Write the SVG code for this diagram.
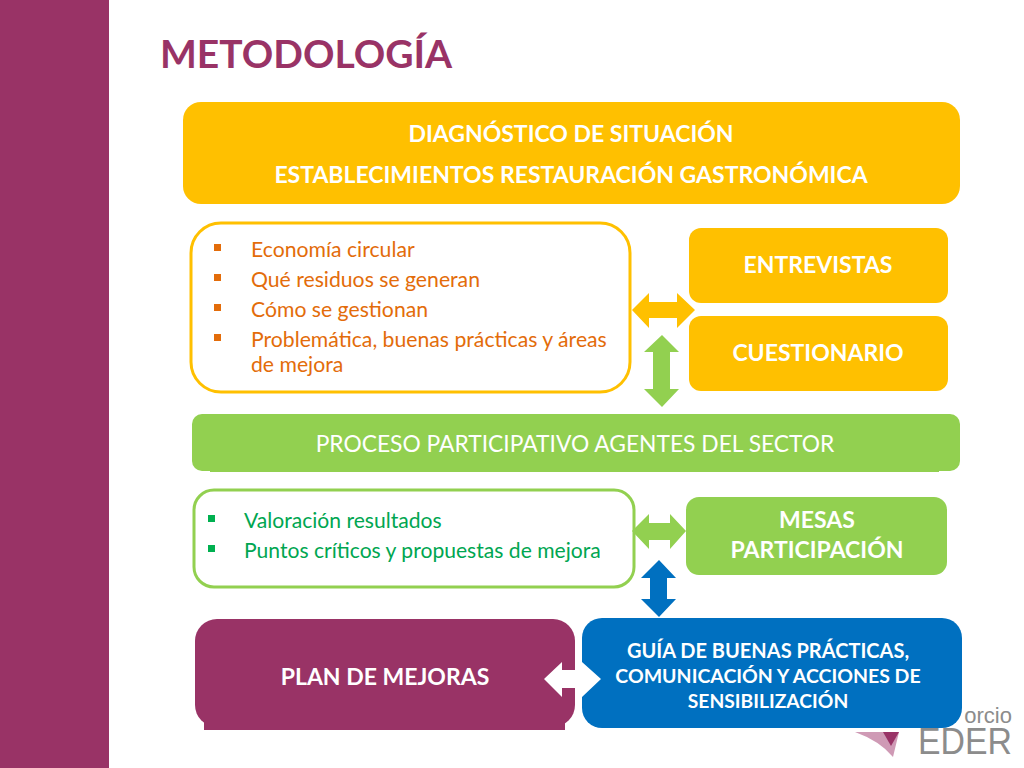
<svg xmlns="http://www.w3.org/2000/svg" width="1024" height="768" viewBox="0 0 1024 768">
<style>
text{font-family:Lato,"Liberation Sans",sans-serif}
.c{text-anchor:middle;fill:#fff}
.b{font-weight:700}
.o{fill:#e36c0a;font-size:21.2px}
.g{fill:#00a651;font-size:21.1px}
.l{fill:#8c8c8c;font-family:"Liberation Sans",sans-serif}
</style>
<rect width="1024" height="768" fill="#fff"/>
<rect id="sidebar" width="109" height="768" fill="#993366"/>
<text id="title" x="160" y="68" font-size="39" font-weight="700" fill="#993366">METODOLOGÍA</text>
<g id="logo">
<text class="l" x="1012" y="723" font-size="22" text-anchor="end">orcio</text>
<text class="l" x="918" y="754" font-size="37" textLength="94" lengthAdjust="spacingAndGlyphs">EDER</text>
<path d="M855 732Q880 741 893 757L899 732Z" fill="#cf9ab5"/>
<path d="M883 732L899 732L891 746Z" fill="#993366"/>
</g>
<g id="diagnostico">
<rect x="183" y="102" width="777" height="102" rx="18" fill="#ffc000"/>
<text class="c b" x="571" y="142" font-size="23">DIAGNÓSTICO DE SITUACIÓN</text>
<text class="c b" x="571" y="183" font-size="23">ESTABLECIMIENTOS RESTAURACIÓN GASTRONÓMICA</text>
</g>
<g id="lista-diagnostico">
<rect x="191" y="223" width="439" height="169" rx="30" fill="#fff" stroke="#ffc000" stroke-width="3"/>
<g fill="#e36c0a"><rect x="214" y="244" width="7" height="7"/><rect x="214" y="274" width="7" height="7"/><rect x="214" y="304" width="7" height="7"/><rect x="214" y="334" width="7" height="7"/></g>
<text class="o" x="251" y="256.5">Economía circular</text>
<text class="o" x="251" y="286.5">Qué residuos se generan</text>
<text class="o" x="251" y="316.5">Cómo se gestionan</text>
<text class="o" x="251" y="346.5">Problemática, buenas prácticas y áreas</text>
<text class="o" x="251" y="371.5">de mejora</text>
</g>
<g id="entrevistas">
<rect x="689" y="228" width="259" height="75" rx="12" fill="#ffc000"/>
<text class="c b" x="818" y="273" font-size="23">ENTREVISTAS</text>
</g>
<g id="cuestionario">
<rect x="689" y="316" width="259" height="75" rx="12" fill="#ffc000"/>
<text class="c b" x="818" y="361" font-size="23">CUESTIONARIO</text>
</g>
<g id="proceso">
<rect x="192" y="414" width="768" height="57" rx="10" fill="#92d050"/>
<rect x="210" y="440" width="729" height="32" fill="#92d050"/>
<text class="c" x="575" y="452" font-size="22.8">PROCESO PARTICIPATIVO AGENTES DEL SECTOR</text>
</g>
<g id="lista-proceso">
<rect x="194" y="490" width="440" height="97" rx="20" fill="#fff" stroke="#92d050" stroke-width="3"/>
<g fill="#00b050"><rect x="208" y="515" width="7" height="7"/><rect x="208" y="545" width="7" height="7"/></g>
<text class="g" x="244" y="527.5">Valoración resultados</text>
<text class="g" x="244" y="557.5">Puntos críticos y propuestas de mejora</text>
</g>
<g id="mesas">
<rect x="686" y="497" width="261" height="78" rx="13" fill="#92d050"/>
<text class="c b" x="817" y="528" font-size="23">MESAS</text>
<text class="c b" x="817" y="558" font-size="23">PARTICIPACIÓN</text>
</g>
<g id="plan">
<rect x="195" y="619" width="380" height="108" rx="22" fill="#993366"/>
<rect x="204" y="700" width="361" height="30" fill="#993366"/>
<text class="c b" x="385" y="685" font-size="23">PLAN DE MEJORAS</text>
</g>
<g id="guia">
<rect x="582" y="618" width="380" height="110" rx="20" fill="#0070c0"/>
<text class="c b" x="768" y="658" font-size="20">GUÍA DE BUENAS PRÁCTICAS,</text>
<text class="c b" x="768" y="683" font-size="19.5">COMUNICACIÓN Y ACCIONES DE</text>
<text class="c b" x="768" y="708" font-size="19.3">SENSIBILIZACIÓN</text>
</g>
<g id="connectors">
<path fill="#ffc000" d="M632 310L649 293V302H677V293L695 310L677 328V318H649V328Z"/>
<path fill="#92d050" d="M662 335L679 352H670V389H679L662 407L644 389H653V352H644Z"/>
<path fill="#92d050" d="M632 531L649 514V523H670V514L686 531L670 549V540H649V549Z"/>
<path fill="#0070c0" d="M659 560L676 578H667V599H676L659 617L641 599H650V578H641Z"/>
<path fill="#fff" d="M544 679L562 662V670H582V662L601 679L582 697V688H562V697Z"/>
</g>
</svg>
